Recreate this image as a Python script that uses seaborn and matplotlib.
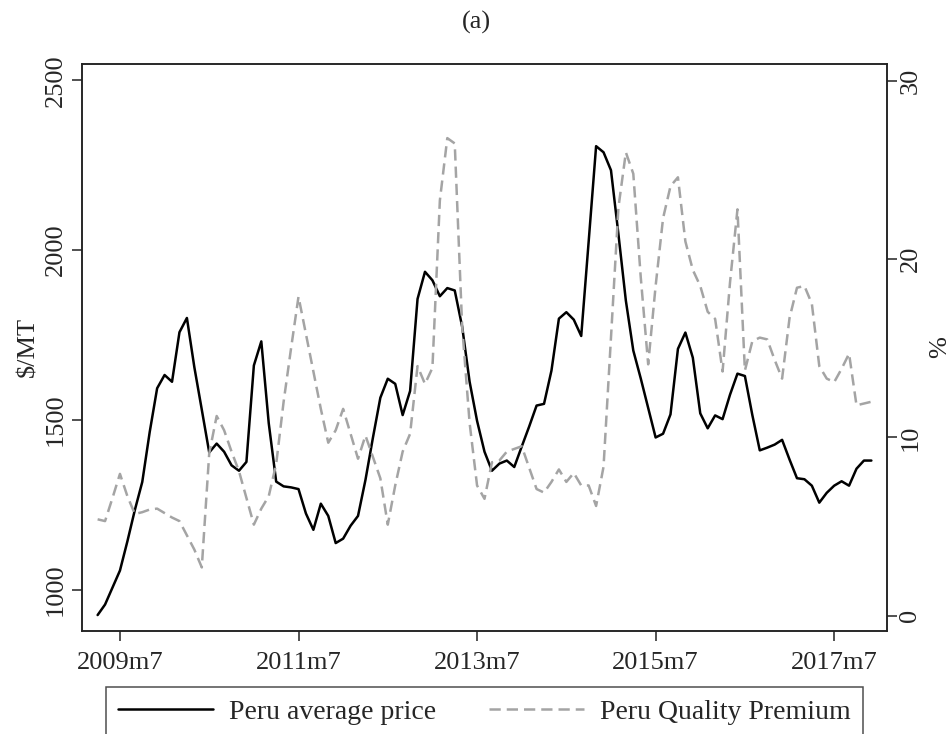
import numpy as np
import pandas as pd
import matplotlib
matplotlib.use("Agg")
import matplotlib.pyplot as plt
import seaborn as sns

# ---------------- data ----------------
start_month = "2009-04"
price = [925, 956, 1006, 1056, 1142, 1234, 1317, 1464, 1593, 1632,
         1612, 1758, 1800, 1655, 1530, 1404, 1430, 1406, 1366, 1350,
         1376, 1660, 1731, 1490, 1318, 1304, 1301, 1296, 1224, 1176,
         1253, 1217, 1137, 1150, 1188, 1217, 1323, 1447, 1565, 1621,
         1606, 1514, 1585, 1856, 1936, 1911, 1864, 1888, 1881, 1774,
         1612, 1497, 1406, 1350, 1371, 1380, 1361, 1421, 1480, 1542,
         1547, 1645, 1798, 1817, 1795, 1747, 2025, 2306, 2288, 2235,
         2047, 1851, 1704, 1622, 1535, 1448, 1459, 1516, 1709, 1757,
         1683, 1519, 1475, 1513, 1502, 1574, 1636, 1629, 1514, 1410,
         1418, 1427, 1441, 1383, 1328, 1325, 1306, 1256, 1285, 1306,
         1319, 1306, 1356, 1380, 1380]
premium = [5.4, 5.3, 6.6, 7.95, 6.7, 5.7, 5.8, 5.95, 6.0, 5.75,
           5.5, 5.3, 4.5, 3.7, 2.7, 9.1, 11.2, 10.4, 9.2, 8.1,
           6.6, 5.1, 6.0, 6.7, 8.5, 12.0, 15.0, 17.9, 15.8, 13.7,
           11.6, 9.7, 10.4, 11.6, 10.2, 8.8, 10.1, 8.9, 7.7, 5.1,
           7.3, 9.2, 10.2, 14.0, 13.0, 13.9, 23.3, 26.8, 26.5, 16.2,
           10.8, 7.3, 6.55, 8.6, 8.7, 9.2, 9.35, 9.5, 8.3, 7.1,
           6.9, 7.5, 8.2, 7.5, 8.0, 7.3, 7.3, 6.15, 8.35, 15.6,
           22.9, 26.0, 24.8, 19.0, 14.1, 18.5, 22.3, 24.1, 24.6, 21.0,
           19.4, 18.5, 17.05, 16.65, 13.7, 18.7, 22.8, 13.75, 15.4, 15.6,
           15.5, 14.35, 13.3, 16.7, 18.4, 18.5, 17.5, 14.0, 13.3, 13.1,
           13.85, 14.7, 11.8, 11.9, 12.0]
tick_months = ["2009-07", "2011-07", "2013-07", "2015-07", "2017-07"]
tick_labels = ["2009m7", "2011m7", "2013m7", "2015m7", "2017m7"]
left_ticks = [1000, 1500, 2000, 2500]
right_ticks = [0, 10, 20, 30]
series_names = ["Peru average price", "Peru Quality Premium"]

# ---------------- frame ----------------
p0 = pd.Period(start_month, freq="M")
months = pd.period_range(start_month, periods=len(price), freq="M")
df = pd.DataFrame({
    "t": [(m - p0).n for m in months],
    "price": price,
    "premium": premium,
})
tick_pos = [(pd.Period(m, freq="M") - p0).n for m in tick_months]

sns.set_style("ticks")
plt.rcParams["font.family"] = ["Liberation Serif", "DejaVu Serif"]
plt.rcParams["axes.edgecolor"] = "#222222"

W, H = 953, 734
fig = plt.figure(figsize=(W / 100, H / 100), dpi=100)
L, R, T, B = 82, 887, 64, 631
ax = fig.add_axes([L / W, 1 - B / H, (R - L) / W, (B - T) / H])
ax2 = ax.twinx()

gray = "#a4a4a4"
sns.lineplot(data=df, x="t", y="price", ax=ax, color="black", lw=1.8,
             legend=False)
sns.lineplot(data=df, x="t", y="premium", ax=ax2, color=gray, lw=1.8,
             legend=False)
l1 = ax.lines[0]
l2 = ax2.lines[0]
l2.set_dashes([4.5, 2.4])

ax.set_xlim(-2.1, 106.1)
ax.set_ylim(878, 2548)
ax2.set_ylim(-0.87, 30.96)

fs = 19
ax.set_xticks(tick_pos)
ax.set_xticklabels(tick_labels, fontsize=fs)
ax.set_yticks(left_ticks)
ax.set_yticklabels([str(v) for v in left_ticks], fontsize=fs, rotation=90,
                   va="center")
ax2.set_yticks(right_ticks)
ax2.set_yticklabels([str(v) for v in right_ticks], fontsize=fs, rotation=90,
                    va="center")
ax.tick_params(axis="x", length=7, width=1.1, pad=8, color="#222222")
ax.tick_params(axis="y", length=7, width=1.1, pad=4, color="#222222")
ax2.tick_params(axis="y", length=7, width=1.1, pad=2, color="#222222")
ax.set_xlabel("")
ax.set_ylabel("")
ax2.set_ylabel("")
for a in (ax, ax2):
    for s in a.spines.values():
        s.set_visible(True)
        s.set_linewidth(1.1)

fig.text(28 / W, 1 - 347 / H, r"\$/MT", rotation=90, ha="center",
         va="center", fontsize=fs)
fig.text(940 / W, 1 - 347 / H, "%", rotation=90, ha="center",
         va="center", fontsize=fs)
fig.text(0.5, 1 - 22 / H, "(a)", ha="center", va="center", fontsize=fs)

leg = ax.legend([l1, l2], series_names, ncol=2, loc="upper center",
                bbox_to_anchor=(0.5, (B - 687) / (B - T)),
                borderaxespad=0.0,
                frameon=True, fancybox=False, edgecolor="#222222",
                fontsize=20, handlelength=3.4, handletextpad=0.6,
                columnspacing=1.9, borderpad=0.45)
leg.get_frame().set_linewidth(1.1)

fig.savefig("out.png", dpi=100)
